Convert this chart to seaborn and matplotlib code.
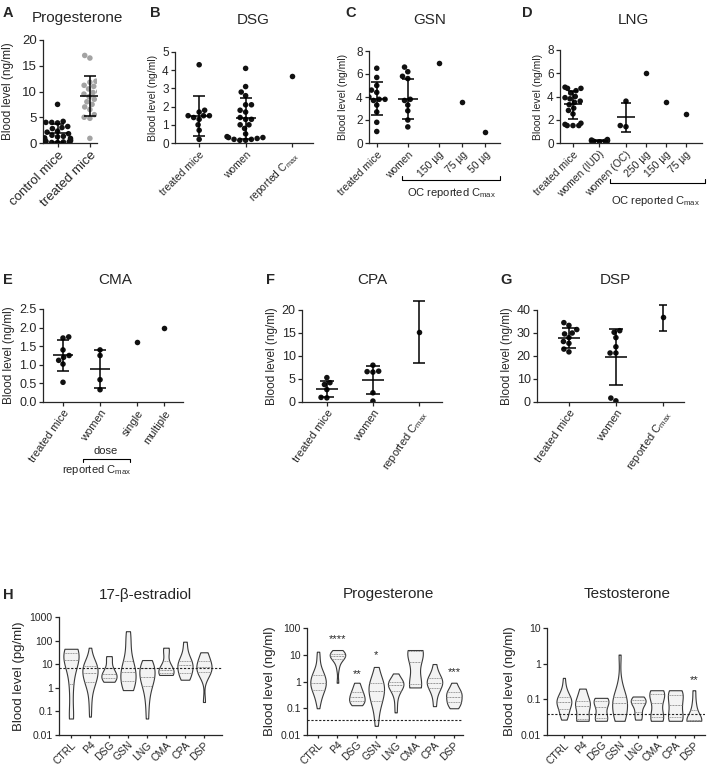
import numpy as np
import pandas as pd
import matplotlib
matplotlib.use('Agg')
import matplotlib.pyplot as plt
from matplotlib.lines import Line2D
from matplotlib.ticker import FixedLocator, FuncFormatter, NullLocator
import seaborn as sns

sns.set_style('ticks')
plt.rcParams['font.family'] = ['Liberation Sans', 'DejaVu Sans']
plt.rcParams['mathtext.fontset'] = 'custom'
plt.rcParams['mathtext.rm'] = 'Liberation Sans'
plt.rcParams['mathtext.it'] = 'Liberation Sans:italic'
plt.rcParams['axes.linewidth'] = 0.9
plt.rcParams['xtick.major.width'] = 0.9
plt.rcParams['ytick.major.width'] = 0.9
plt.rcParams['xtick.major.size'] = 3
plt.rcParams['ytick.major.size'] = 3
plt.rcParams['xtick.major.pad'] = 1.5
plt.rcParams['ytick.major.pad'] = 1.5

CMAX = 'C$_{\\mathrm{max}}$'

# ---------------- data: scatter panels ----------------
# A  progesterone
a_labels = ['control mice', 'treated mice']
a_control = [7.5, 4.2, 4.0, 4.0, 3.9, 3.2, 3.0, 2.8, 2.3, 2.1, 1.8, 1.5, 1.3, 1.2,
             1.0, 0.9, 0.8, 0.6, 0.5, 0.4, 0.3, 0.2, 0.2, 0.1, 0.1]
a_treated = [17.0, 16.5, 12.0, 11.8, 11.2, 11.0, 10.5, 10.0, 9.8, 9.5, 9.0, 8.5,
             8.0, 7.5, 7.0, 6.5, 5.5, 5.0, 4.8, 0.9]
a_mean = [1.9, 9.1]
a_lo = [0.2, 5.2]
a_hi = [3.6, 13.0]

# B  DSG
b_labels = ['treated mice', 'women', 'reported ' + CMAX]
b_treated = [4.3, 1.8, 1.7, 1.5, 1.5, 1.5, 1.4, 1.3, 1.0, 0.7, 0.2]
b_women = [4.1, 3.1, 2.8, 2.6, 2.1, 2.1, 1.8, 1.7, 1.4, 1.3, 1.3, 1.0, 1.0, 0.8,
           0.5, 0.35, 0.3, 0.3, 0.25, 0.2, 0.2, 0.15, 0.15]
b_reported = [3.7]
b_mean = [1.5, 1.35]
b_lo = [0.4, 0.2]
b_hi = [2.6, 2.5]

# C  GSN
c_labels = ['treated mice', 'women', '150 µg', '75 µg', '50 µg']
c_treated = [6.5, 5.7, 5.0, 4.6, 4.4, 4.0, 3.8, 3.8, 3.7, 3.3, 2.7, 1.8, 1.0]
c_women = [6.6, 6.2, 5.8, 5.6, 3.8, 3.7, 3.3, 2.8, 2.0, 1.4]
c_reported = [7.0, 3.6, 1.0]
c_mean = [3.85, 3.8]
c_lo = [2.4, 2.1]
c_hi = [5.3, 5.6]

# D  LNG
d_labels = ['treated mice', 'women (IUD)', 'women (OC)', '250 µg', '150 µg', '75 µg']
d_treated = [4.8, 4.7, 4.7, 4.5, 4.3, 4.0, 3.9, 3.8, 3.6, 3.5, 3.3, 3.0, 2.8, 2.5,
             1.7, 1.6, 1.5, 1.5, 1.5]
d_iud = [0.3, 0.25, 0.2, 0.2, 0.18, 0.15, 0.15, 0.1]
d_oc = [3.6, 1.5, 1.4]
d_reported = [6.0, 3.5, 2.5]
d_mean = [3.35, 0.2, 2.2]
d_lo = [2.1, 0.15, 0.95]
d_hi = [4.5, 0.25, 3.4]

# E  CMA
e_labels = ['treated mice', 'women', 'single', 'multiple']
e_treated = [1.75, 1.72, 1.4, 1.25, 1.2, 1.12, 1.02, 0.53]
e_women = [1.4, 1.25, 0.6, 0.33]
e_reported = [1.6, 2.0]
e_mean = [1.26, 0.89]
e_lo = [0.84, 0.37]
e_hi = [1.67, 1.4]

# F  CPA
f_labels = ['treated mice', 'women', 'reported ' + CMAX]
f_treated = [5.3, 4.2, 3.8, 2.7, 1.0, 0.9]
f_women = [8.0, 6.7, 6.6, 6.5, 2.0, 0.2]
f_reported = [15.2]
f_mean = [2.8, 4.7]
f_lo = [1.0, 1.8]
f_hi = [4.6, 7.8]
f_rep_lo = [8.5]
f_rep_hi = [22.0]

# G  DSP
g_labels = ['treated mice', 'women', 'reported ' + CMAX]
g_treated = [34.5, 33.3, 31.5, 30.0, 29.6, 28.0, 26.3, 25.5, 23.0, 21.8]
g_women = [31.0, 30.3, 28.0, 24.0, 21.3, 21.3, 1.7, 0.5]
g_reported = [36.8]
g_mean = [27.7, 19.7]
g_lo = [23.3, 7.6]
g_hi = [32.1, 31.8]
g_rep_lo = [31.0]
g_rep_hi = [42.0]

# ---------------- data: violin panels ----------------
drugs = ['CTRL', 'P4', 'DSG', 'GSN', 'LNG', 'CMA', 'CPA', 'DSP']
e2_values = [
    [45, 42, 40, 38, 35, 32, 30, 28, 25, 22, 20, 18, 15, 12, 10, 8, 5, 3, 1.5, 0.8, 0.4, 0.1, 0.05, 0.05, 0.05],
    [50, 15, 12, 10, 9, 8, 7, 6, 5, 4.5, 4, 3, 2.5, 2, 1.8, 1.5, 1, 0.5, 0.2, 0.06],
    [22, 18, 8, 5, 4, 3.5, 3, 2.5, 2, 1.8],
    [250, 100, 30, 10, 8, 6, 4, 3, 2, 1.5, 1, 0.8],
    [15, 12, 10, 8, 6, 5, 4, 3, 2.5, 2, 1.5, 1, 0.5, 0.2, 0.05],
    [50, 35, 10, 6, 5, 4.5, 4, 3.5],
    [90, 30, 15, 12, 10, 8, 6, 4, 3, 2.2],
    [32, 25, 18, 12, 9, 8, 7, 6, 5, 4, 3, 0.25],
]
p_values = [
    [13, 10, 6, 4, 3, 2.5, 2.2, 2, 1.8, 1.6, 1.5, 1.4, 1.3, 1.2, 1.1, 1.0, 0.9, 0.85, 0.8,
     0.75, 0.7, 0.65, 0.6, 0.55, 0.5, 0.45, 0.4, 0.35, 0.3, 0.25, 0.2, 0.15, 0.1],
    [15, 13, 12, 11, 10.5, 10, 9.5, 9, 8.5, 8, 7, 5, 3, 0.9],
    [0.9, 0.6, 0.45, 0.35, 0.3, 0.25, 0.2, 0.18, 0.15, 0.13],
    [3.5, 2, 1.2, 1, 0.8, 0.7, 0.6, 0.5, 0.4, 0.3, 0.25, 0.2, 0.15, 0.1, 0.05, 0.022],
    [2, 1.4, 1.1, 1, 0.9, 0.85, 0.8, 0.75, 0.7, 0.6, 0.5, 0.4, 0.3, 0.15, 0.07],
    [15, 14, 13, 9, 3, 0.8, 0.7, 0.6],
    [4.5, 2, 1.5, 1.2, 1, 0.9, 0.8, 0.7, 0.5, 0.3, 0.12],
    [0.9, 0.6, 0.45, 0.4, 0.35, 0.3, 0.25, 0.2, 0.18, 0.15, 0.12, 0.1],
]
t_values = [
    [0.4, 0.25, 0.18, 0.15, 0.14, 0.12, 0.11, 0.1, 0.1, 0.09, 0.085, 0.08, 0.075, 0.07,
     0.065, 0.06, 0.05, 0.045, 0.04, 0.035, 0.03, 0.027],
    [0.2, 0.15, 0.1, 0.08, 0.07, 0.065, 0.06, 0.03, 0.025, 0.025, 0.025],
    [0.11, 0.1, 0.09, 0.08, 0.06, 0.04, 0.03, 0.025, 0.025],
    [1.8, 0.3, 0.15, 0.12, 0.1, 0.09, 0.08, 0.07, 0.05, 0.04, 0.03, 0.025, 0.025],
    [0.12, 0.11, 0.1, 0.09, 0.085, 0.08, 0.07, 0.05, 0.04, 0.03, 0.027],
    [0.18, 0.17, 0.15, 0.12, 0.1, 0.06, 0.04, 0.03, 0.025, 0.025],
    [0.18, 0.17, 0.15, 0.1, 0.08, 0.06, 0.04, 0.03, 0.025, 0.025],
    [0.18, 0.08, 0.05, 0.03, 0.026, 0.025, 0.025, 0.025, 0.025],
]
e2_cutoff = 7
p_cutoff = 0.035
t_cutoff = 0.038

# ---------------- layout helpers (pixel coords) ----------------
W, H = 708, 766
fig = plt.figure(figsize=(W / 100, H / 100), dpi=100)


def px_axes(x0, y0, x1, y1):
    return fig.add_axes([x0 / W, 1 - y1 / H, (x1 - x0) / W, (y1 - y0) / H])


def ftext(x, y, s, **kw):
    fig.text(x / W, 1 - y / H, s, **kw)


def bracket(x0, x1, y, tick):
    xs = [x0, x0, x1, x1]
    ys = [y + tick, y, y, y + tick]
    fig.add_artist(Line2D([v / W for v in xs], [1 - v / H for v in ys],
                          color='k', lw=0.8))


def scatter_panel(ax, groups, pos, colors, size=4):
    rows = []
    for g, p, c in zip(groups, pos, colors):
        for v in g:
            rows.append((p, v, c))
    df = pd.DataFrame(rows, columns=['pos', 'value', 'col'])
    sns.swarmplot(data=df, x='pos', y='value', hue='col', palette={c: c for c in set(colors)},
                  native_scale=True, size=size, ax=ax, legend=False, zorder=3)


def sd_bars(ax, pos, mean, lo, hi, ms=15, cap=4.5, lw=1.1):
    for p, m, l, h in zip(pos, mean, lo, hi):
        ax.errorbar(p, m, yerr=[[m - l], [h - m]], fmt='none', ecolor='k',
                    elinewidth=lw, capsize=cap, capthick=lw, zorder=5, clip_on=False)
        ax.plot([p], [m], marker='_', ms=ms, mew=lw, color='k', zorder=5)


def range_bars(ax, pos, lo, hi, cap=3.5, lw=1.1):
    for p, l, h in zip(pos, lo, hi):
        mid = (l + h) / 2
        ax.errorbar(p, mid, yerr=[[mid - l], [h - mid]], fmt='none', ecolor='k',
                    elinewidth=lw, capsize=cap, capthick=lw, zorder=5, clip_on=False)


def style(ax, pos, labels, xlim, ylim, yticks, fmt, xfs, yfs, lfs, rot, pad=3):
    ax.set_xlim(*xlim)
    ax.set_ylim(*ylim)
    ax.set_yticks(yticks)
    ax.set_yticklabels([fmt.format(v) for v in yticks], fontsize=yfs)
    ax.set_xticks(pos)
    ax.set_xticklabels(labels, rotation=rot, ha='right', rotation_mode='anchor', fontsize=xfs)
    ax.set_xlabel('')
    ax.set_ylabel('Blood level (ng/ml)', fontsize=lfs, labelpad=pad)
    sns.despine(ax=ax)


# ---------------- row 1 ----------------
axA = px_axes(43, 40, 97, 143)
scatter_panel(axA, [a_control, a_treated], [0, 1], ['#111111', '#a3a3a3'])
sd_bars(axA, [0, 1], a_mean, a_lo, a_hi, ms=15, cap=4.5)
style(axA, [0, 1], a_labels, (-0.45, 1.22), (0, 20), [0, 5, 10, 15, 20], '{:g}', 9.5, 9.5, 8.5, 45, pad=6)

axB = px_axes(175, 52, 313, 143)
pos_B = [0, 1, 2]
scatter_panel(axB, [b_treated, b_women, b_reported], pos_B, ['#111111'] * 3)
sd_bars(axB, pos_B[:2], b_mean, b_lo, b_hi)
style(axB, pos_B, b_labels, (-0.52, 2.45), (0, 5), [0, 1, 2, 3, 4, 5], '{:g}', 7.5, 8.5, 7.5, 45)

axC = px_axes(369, 51, 500, 143)
pos_C = [0, 1, 2, 2.75, 3.5]
scatter_panel(axC, [c_treated, c_women] + [[v] for v in c_reported], pos_C, ['#111111'] * 5)
sd_bars(axC, pos_C[:2], c_mean, c_lo, c_hi, ms=14, cap=4)
style(axC, pos_C, c_labels, (-0.25, 3.97), (0, 8), [0, 2, 4, 6, 8], '{:g}', 7.5, 8.5, 7.5, 45, pad=6)

axD = px_axes(560, 50, 702, 143)
pos_D = [0, 1, 2, 2.75, 3.5, 4.25]
scatter_panel(axD, [d_treated, d_iud, d_oc] + [[v] for v in d_reported], pos_D, ['#111111'] * 6)
sd_bars(axD, pos_D[:3], d_mean, d_lo, d_hi, ms=13, cap=3.5)
style(axD, pos_D, d_labels, (-0.49, 4.87), (0, 8), [0, 2, 4, 6, 8], '{:g}', 7.5, 8.5, 7.5, 45)

# ---------------- row 2 ----------------
axE = px_axes(43, 309, 183, 402)
pos_E = [0, 1, 2, 2.73]
scatter_panel(axE, [e_treated, e_women] + [[v] for v in e_reported], pos_E, ['#111111'] * 4)
sd_bars(axE, pos_E[:2], e_mean, e_lo, e_hi, ms=15, cap=4.5)
style(axE, pos_E, e_labels, (-0.54, 3.24), (0, 2.5), [0, 0.5, 1, 1.5, 2, 2.5], '{:.1f}', 8, 9, 8.5, 55)

axF = px_axes(302, 310, 442, 402)
pos_F = [0, 1, 2]
scatter_panel(axF, [f_treated, f_women, f_reported], pos_F, ['#111111'] * 3)
sd_bars(axF, pos_F[:2], f_mean, f_lo, f_hi, ms=16, cap=5)
range_bars(axF, pos_F[2:], f_rep_lo, f_rep_hi, cap=4)
style(axF, pos_F, f_labels, (-0.54, 2.5), (0, 20), [0, 5, 10, 15, 20], '{:g}', 8, 9, 8.5, 55)

axG = px_axes(537, 310, 684, 402)
pos_G = [0, 1, 2]
scatter_panel(axG, [g_treated, g_women, g_reported], pos_G, ['#111111'] * 3)
sd_bars(axG, pos_G[:2], g_mean, g_lo, g_hi, ms=16, cap=5)
range_bars(axG, pos_G[2:], g_rep_lo, g_rep_hi, cap=3)
style(axG, pos_G, g_labels, (-0.68, 2.45), (0, 40), [0, 10, 20, 30, 40], '{:g}', 8, 9, 8.5, 55)

# ---------------- row 3: violins ----------------
def violin_panel(ax, values, ylim, yticks, cutoff, ylabel, xlim):
    df = pd.DataFrame({'drug': np.repeat(drugs, [len(v) for v in values]),
                       'value': np.concatenate([np.asarray(v, float) for v in values])})
    sns.violinplot(data=df, x='drug', y='value', order=drugs, ax=ax, log_scale=True,
                   cut=0, density_norm='width', width=0.8, inner='quart',
                   color='#f3f3f3', linecolor='#3a3a3a', linewidth=0.8, bw_adjust=0.9,
                   inner_kws=dict(color='#8a8a8a', linewidth=0.6))
    ax.axhline(cutoff, color='#222222', lw=0.8, ls=(0, (2, 1.5)), zorder=4)
    ax.set_ylim(*ylim)
    ax.yaxis.set_major_locator(FixedLocator(yticks))
    ax.yaxis.set_major_formatter(FuncFormatter(lambda v, _: f'{v:g}'))
    ax.yaxis.set_minor_locator(NullLocator())
    ax.tick_params(axis='y', labelsize=7.5)
    ax.tick_params(axis='x', length=2.5, pad=1)
    ax.set_xlim(*xlim)
    ax.set_xticks(range(len(drugs)))
    ax.set_xticklabels(drugs, rotation=45, ha='right', rotation_mode='anchor', fontsize=7.5)
    ax.set_xlabel('')
    ax.set_ylabel(ylabel, fontsize=9.5, labelpad=3)
    sns.despine(ax=ax)


axH1 = px_axes(59, 617, 222, 735)
violin_panel(axH1, e2_values, (0.01, 1000), [0.01, 0.1, 1, 10, 100, 1000], e2_cutoff,
             'Blood level (pg/ml)', (-0.63, 7.95))

axH2 = px_axes(307, 628, 463, 735)
violin_panel(axH2, p_values, (0.01, 100), [0.01, 0.1, 1, 10, 100], p_cutoff,
             'Blood level (ng/ml)', (-0.57, 7.47))
for x, y, s in [(1, 40, '****'), (2, 1.9, '**'), (3, 10, '*'), (7, 2.3, '***')]:
    axH2.text(x, y, s, ha='center', va='center', fontsize=8)

axH3 = px_axes(547, 628, 705, 735)
violin_panel(axH3, t_values, (0.01, 10), [0.01, 0.1, 1, 10], t_cutoff,
             'Blood level (ng/ml)', (-0.91, 7.6))
axH3.text(7, 0.35, '**', ha='center', va='center', fontsize=8)

# ---------------- titles, panel letters, brackets ----------------
for x, y, s in [(77, 18, 'Progesterone'), (253, 20, 'DSG'), (430, 20, 'GSN'), (633, 20, 'LNG'),
                (115, 280, 'CMA'), (372, 280, 'CPA'), (615, 280, 'DSP'),
                (145, 595, '17-β-estradiol'), (388, 594, 'Progesterone'), (627, 594, 'Testosterone')]:
    ftext(x, y, s, ha='center', va='center', fontsize=11)

for x, y, s in [(3, 13, 'A'), (150, 13, 'B'), (345, 13, 'C'), (522, 13, 'D'),
                (3, 280, 'E'), (266, 280, 'F'), (500, 280, 'G'), (3, 595, 'H')]:
    ftext(x, y, s, ha='left', va='center', fontsize=10.5, fontweight='bold')

bracket(402, 500, 180, -4)
ftext(452, 193, 'OC reported ' + CMAX, ha='center', va='center', fontsize=8)
bracket(610, 705, 183, -4)
ftext(656, 201, 'OC reported ' + CMAX, ha='center', va='center', fontsize=8)
ftext(106, 451, 'dose', ha='center', va='center', fontsize=8)
bracket(83, 130, 459, 3)
ftext(97, 470, 'reported ' + CMAX, ha='center', va='center', fontsize=8)

fig.savefig('out.png', dpi=100)
